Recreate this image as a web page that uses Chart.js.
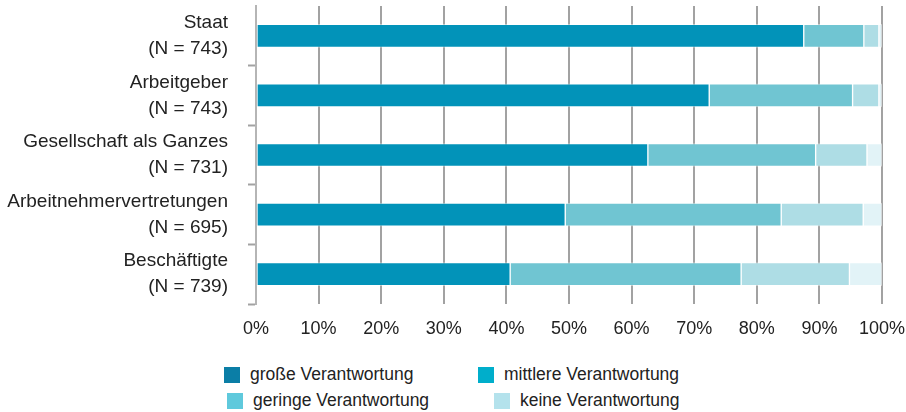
<!DOCTYPE html>
<html lang="de">
<head>
<meta charset="utf-8">
<script src="https://cdn.jsdelivr.net/npm/chart.js@4"></script>
<style>
  html, body { margin: 0; padding: 0; background: #fff; }
  #wrap { position: relative; width: 906px; height: 412px; overflow: hidden; }
  #chartBox { position: absolute; left: 0; top: 0; width: 906px; height: 344px; }
  #legend {
    position: absolute; left: 224px; top: 366px;
    display: grid; grid-template-columns: 254px 240px; row-gap: 9px;
    font-family: "Liberation Sans", Arial, sans-serif;
    font-size: 17.5px; color: #222;
  }
  .item { display: flex; align-items: center; height: 17px; white-space: nowrap; }
  .item span.box { width: 16px; height: 16px; margin-right: 10px; flex: none; }
  .item:nth-child(3) { margin-left: 3px; }
  .item:nth-child(4) { margin-left: 16px; }
</style>
</head>
<body>
<div id="wrap">
  <div id="chartBox"><canvas id="chart"></canvas></div>
  <div id="legend"></div>
</div>
<script>
"use strict";

const categories = [
  ["Staat", "(N = 743)"],
  ["Arbeitgeber", "(N = 743)"],
  ["Gesellschaft als Ganzes", "(N = 731)"],
  ["Arbeitnehmervertretungen", "(N = 695)"],
  ["Beschäftigte", "(N = 739)"],
];

const seriesNames = [
  "große Verantwortung",
  "mittlere Verantwortung",
  "geringe Verantwortung",
  "keine Verantwortung",
];

// percent values per category
const grosse   = [87.5, 72.4, 62.6, 49.4, 40.6];
const mittlere = [9.6, 22.9, 26.8, 34.5, 36.9];
const geringe  = [2.4, 4.2, 8.2, 13.1, 17.3];
const keine    = [0.5, 0.5, 2.4, 3.0, 5.2];

const tickValues = [0, 10, 20, 30, 40, 50, 60, 70, 80, 90, 100];

// bar colours and the (slightly different) legend swatch colours
const barColors = ["#0293b9", "#70c5d2", "#aedde5", "#e2f3f7"];
const legendColors = ["#0b7ea6", "#00aecb", "#5fc9dc", "#b4e2ec"];

const GRID = "#a2a2a2";
const FONT = '"Liberation Sans", Arial, sans-serif';

document.addEventListener("DOMContentLoaded", function () {
  Chart.defaults.font.family = FONT;
  Chart.defaults.color = "#222";

  const seriesValues = [grosse, mittlere, geringe, keine];
  const datasets = seriesValues.map((vals, i) => ({
    label: seriesNames[i],
    data: vals,
    backgroundColor: barColors[i],
    borderColor: "rgba(255,255,255,0.45)",
    borderWidth: 1,
    borderSkipped: false,
    barThickness: 23,
  }));

  new Chart(document.getElementById("chart"), {
    type: "bar",
    data: { labels: categories, datasets: datasets },
    options: {
      indexAxis: "y",
      responsive: true,
      maintainAspectRatio: false,
      animation: false,
      layout: { padding: { top: 6, right: 24, left: 0, bottom: 0 } },
      plugins: { legend: { display: false }, tooltip: { enabled: false } },
      scales: {
        x: {
          stacked: true,
          min: 0,
          max: 100,
          afterBuildTicks: s => { s.ticks = tickValues.map(v => ({ value: v })); },
          afterFit: s => {
            s.height = 40;
            s.paddingLeft = 0;
            s.paddingRight = 0;
          },
          ticks: {
            callback: v => v + "%",
            font: { size: 18 },
            padding: 14,
          },
          grid: { color: GRID, lineWidth: 2, drawTicks: false },
          border: { display: false },
        },
        y: {
          stacked: true,
          afterFit: s => {
            s.width = 256;
            s.paddingTop = 0;
            s.paddingBottom = 0;
          },
          ticks: {
            font: { size: 19, lineHeight: 1.37 },
            padding: 20,
          },
          grid: {
            drawOnChartArea: false,
            offset: true,
            tickLength: 8,
            tickWidth: 2,
            tickColor: ctx => ctx.index === 0 ? "rgba(0,0,0,0)" : GRID,
          },
          border: { display: true, color: "#b5b5b5", width: 2 },
        },
      },
    },
  });

  const legend = document.getElementById("legend");
  seriesNames.forEach((name, i) => {
    const item = document.createElement("div");
    item.className = "item";
    const box = document.createElement("span");
    box.className = "box";
    box.style.background = legendColors[i];
    item.appendChild(box);
    item.appendChild(document.createTextNode(name));
    legend.appendChild(item);
  });
});
</script>
</body>
</html>
